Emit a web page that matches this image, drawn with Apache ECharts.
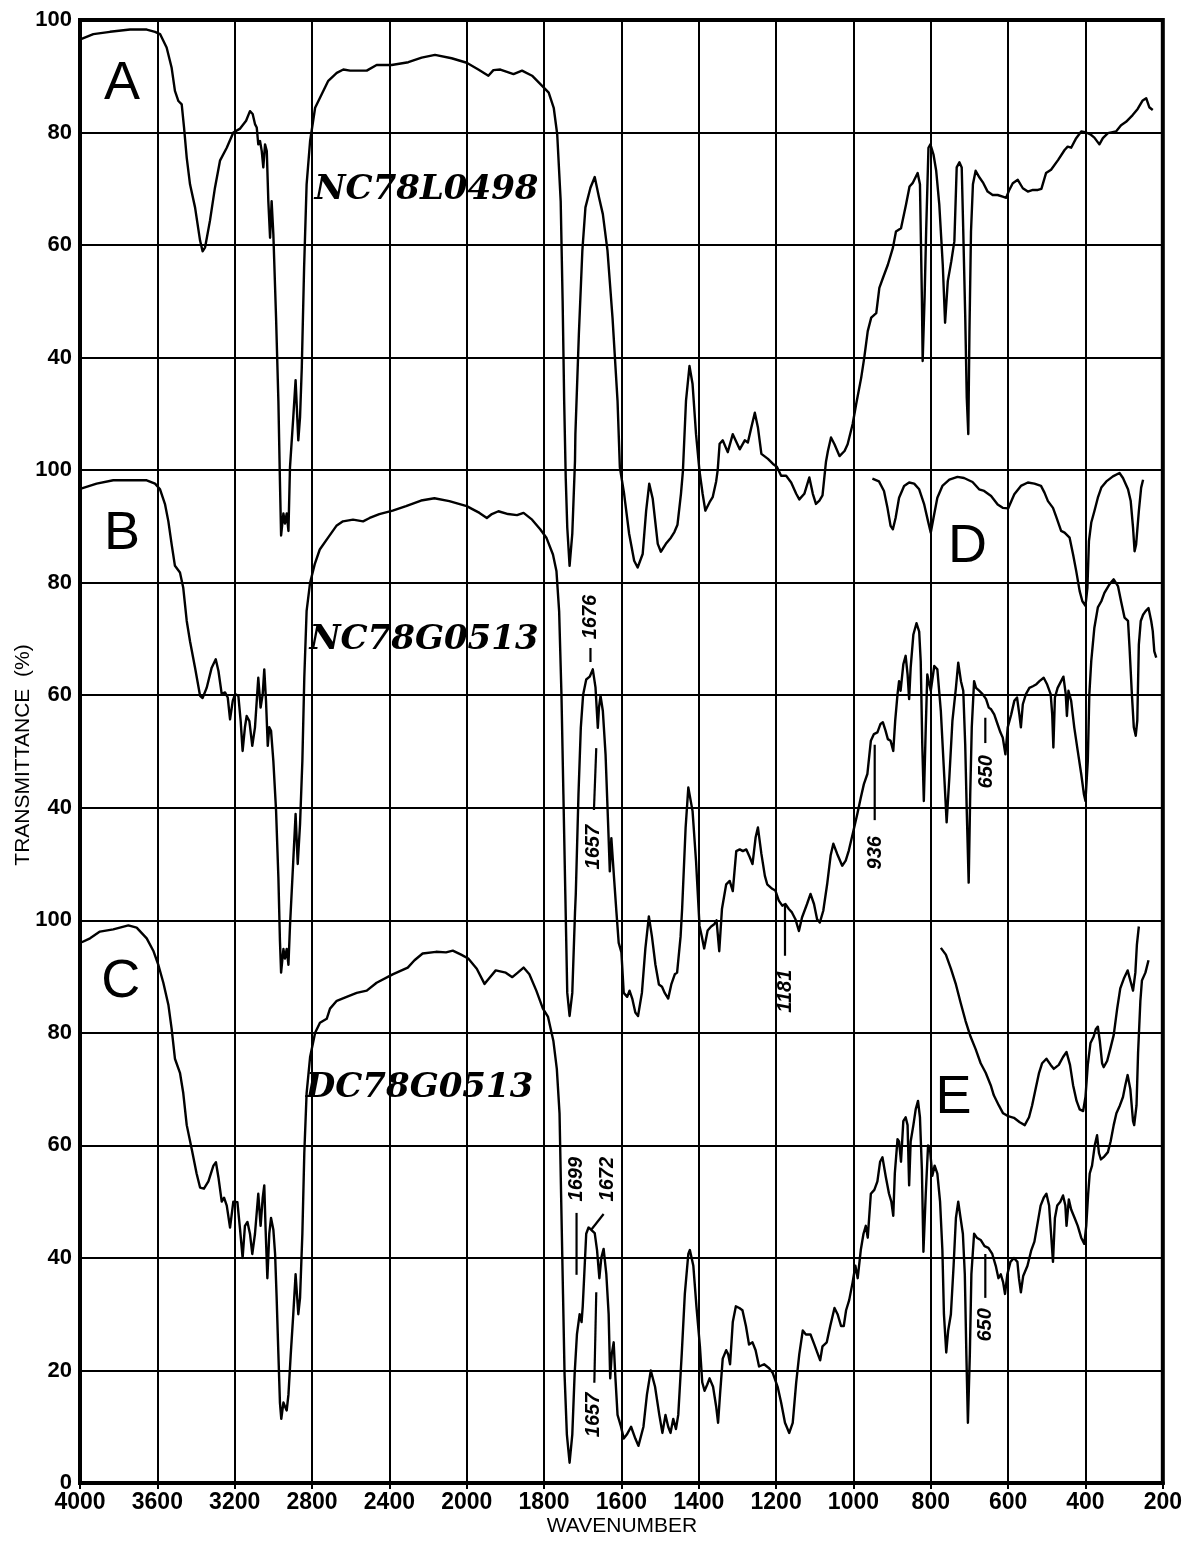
<!DOCTYPE html>
<html>
<head>
<meta charset="utf-8">
<script src="https://cdn.jsdelivr.net/npm/echarts@6/dist/echarts.min.js"></script>
<style>
  html, body { margin: 0; padding: 0; background: #ffffff; }
  #chart { width: 1185px; height: 1544px; }
</style>
</head>
<body>
<div id="chart"></div>
<script>
// Wavenumber tick labels (cm-1); the scale changes at 2000.
const xTickLabels = ['4000', '3600', '3200', '2800', '2400', '2000', '1800', '1600', '1400', '1200', '1000', '800', '600', '400', '200'];
// Transmittance tick labels of the three stacked panels, bottom to top.
const yTickLabels = ['0', '20', '40', '60', '80', '100', '40', '60', '80', '100', '40', '60', '80', '100'];

// Spectrum A: NC78L0498  [wavenumber, transmittance %]
const spectrumA = [
  [3995,96.6],[3931,97.5],[3845,97.9],[3741,98.3],[3655,98.3],[3612,97.9],[3586,97.5],[3552,95.1],[3526,91.5],[3509,87.4],
  [3491,85.6],[3474,85.0],[3462,80.9],[3448,75.5],[3431,70.8],[3405,66.7],[3379,60.8],[3366,58.9],[3353,59.6],[3328,64.3],
  [3302,70.2],[3276,75.0],[3241,77.3],[3207,80.0],[3172,80.7],[3141,82.1],[3121,83.8],[3107,83.3],[3095,81.5],[3086,80.9],
  [3078,77.9],[3069,78.5],[3060,76.7],[3052,73.8],[3043,77.9],[3034,76.7],[3026,67.8],[3017,61.3],[3009,67.8],[3000,61.9],
  [2986,47.1],[2974,32.3],[2966,18.0],[2960,8.4],[2948,12.3],[2940,10.5],[2931,12.3],[2922,9.2],[2914,20.5],[2897,29.4],
  [2885,36.0],[2871,25.3],[2862,29.4],[2853,38.2],[2841,56.0],[2828,70.8],[2810,78.5],[2784,84.4],[2750,86.8],[2716,89.2],
  [2672,90.6],[2638,91.2],[2603,91.0],[2517,91.0],[2466,92.0],[2388,92.0],[2302,92.5],[2233,93.3],[2164,93.8],[2078,93.2],
  [2000,92.4],[1970,91.2],[1944,90.1],[1931,91.1],[1913,91.2],[1879,90.4],[1857,91.0],[1831,90.1],[1805,88.3],[1788,87.1],
  [1775,84.4],[1766,79.7],[1757,67.8],[1752,50.1],[1748,32.3],[1744,18.7],[1740,9.8],[1734,3.0],[1727,8.7],[1720,21.7],
  [1719,26.4],[1710,44.2],[1701,59.0],[1693,66.7],[1680,70.2],[1669,72.1],[1658,68.5],[1648,65.5],[1636,59.0],[1623,47.1],
  [1610,32.3],[1604,20.5],[1593,15.8],[1580,8.7],[1567,3.9],[1558,2.7],[1545,5.1],[1536,12.8],[1528,17.6],[1519,14.9],
  [1506,6.9],[1498,5.5],[1485,6.9],[1472,8.0],[1463,9.0],[1455,10.3],[1446,15.8],[1441,19.8],[1433,32.3],[1424,38.5],
  [1416,35.3],[1407,26.4],[1398,19.8],[1390,15.8],[1383,12.8],[1372,14.3],[1364,15.2],[1355,18.0],[1351,20.0],[1346,24.7],
  [1338,25.3],[1325,23.2],[1312,26.4],[1294,23.7],[1281,25.3],[1273,24.9],[1264,27.6],[1255,30.2],[1247,27.6],[1238,22.9],
  [1221,22.0],[1208,21.1],[1198,20.6],[1187,19.0],[1174,19.0],[1161,17.8],[1148,15.8],[1140,14.8],[1127,15.8],[1114,18.7],
  [1105,15.8],[1097,14.0],[1088,14.6],[1080,15.5],[1071,21.5],[1066,23.4],[1058,25.8],[1049,24.6],[1036,22.5],[1023,23.4],
  [1015,24.6],[1002,28.2],[993,31.7],[980,36.4],[972,40.0],[963,44.7],[954,47.1],[941,47.9],[933,52.4],[924,54.1],
  [911,56.5],[898,59.5],[890,62.4],[877,63.0],[864,67.2],[855,70.4],[847,71.0],[834,72.8],[828,70.8],[823,50.7],
  [821,39.4],[816,50.7],[812,62.4],[806,77.3],[801,77.9],[793,76.1],[786,73.2],[778,67.2],[769,56.5],[763,46.2],
  [756,53.6],[747,57.1],[739,60.7],[733,73.8],[726,74.7],[720,73.8],[716,62.4],[711,47.6],[707,32.9],[703,26.4],
  [700,44.7],[696,62.4],[691,70.8],[684,73.2],[674,72.0],[664,71.0],[653,69.5],[640,68.9],[627,68.9],[614,68.6],
  [605,68.4],[597,69.8],[588,71.0],[575,71.6],[562,70.1],[549,69.5],[536,69.8],[523,69.8],[514,70.0],[502,72.8],
  [489,73.4],[471,75.1],[454,76.9],[446,77.5],[437,77.3],[424,79.0],[411,80.2],[398,80.0],[386,79.6],[377,79.1],
  [364,77.9],[355,79.0],[342,79.9],[321,80.2],[308,81.3],[295,81.9],[278,83.1],[265,84.2],[252,85.7],[243,86.1],
  [235,84.5],[226,84.0]
];

// Spectrum B: NC78G0513
const spectrumB = [
  [3995,96.7],[3914,97.6],[3828,98.2],[3724,98.2],[3655,98.2],[3612,97.6],[3586,96.6],[3560,93.9],[3543,90.9],[3526,86.8],
  [3509,83.0],[3483,81.8],[3466,79.1],[3448,73.2],[3431,69.6],[3405,64.9],[3379,59.9],[3366,59.5],[3345,61.3],[3319,64.9],
  [3298,66.4],[3284,64.3],[3267,60.2],[3250,60.5],[3236,59.6],[3224,55.7],[3210,59.0],[3198,60.2],[3181,59.9],[3169,55.4],
  [3159,50.1],[3147,54.3],[3138,56.3],[3124,55.4],[3109,51.0],[3095,54.3],[3078,63.1],[3066,57.8],[3055,60.2],[3047,64.6],
  [3038,59.0],[3029,51.0],[3021,54.3],[3012,53.7],[3000,48.3],[2986,39.5],[2974,27.6],[2966,16.4],[2960,10.7],[2948,14.9],
  [2940,13.2],[2931,14.9],[2922,12.1],[2914,19.0],[2897,30.6],[2885,38.9],[2874,30.0],[2862,37.1],[2850,48.3],[2840,63.1],
  [2828,75.0],[2810,80.0],[2786,83.3],[2760,85.9],[2717,88.0],[2674,90.1],[2640,90.9],[2588,91.2],[2536,90.9],[2502,91.5],
  [2452,92.2],[2383,92.8],[2314,93.6],[2236,94.6],[2167,95.0],[2090,94.5],[2000,93.6],[1967,92.4],[1948,91.5],[1935,92.2],
  [1918,92.7],[1893,92.2],[1870,92.0],[1853,92.4],[1831,91.2],[1810,89.5],[1794,88.0],[1777,85.0],[1768,82.1],[1761,74.9],
  [1755,60.1],[1750,42.4],[1745,24.6],[1740,7.1],[1734,3.0],[1727,7.1],[1720,21.4],[1718,24.6],[1711,42.4],[1705,54.2],
  [1699,60.1],[1691,62.8],[1682,63.3],[1674,64.6],[1667,61.4],[1661,54.2],[1658,57.8],[1654,59.9],[1648,57.2],[1641,49.5],
  [1634,36.4],[1630,28.7],[1626,34.6],[1619,27.5],[1613,21.6],[1607,16.0],[1600,14.3],[1594,7.1],[1585,6.4],[1579,7.5],
  [1572,6.1],[1564,3.6],[1557,3.0],[1547,7.1],[1538,15.0],[1529,20.7],[1521,17.1],[1512,12.1],[1503,8.6],[1495,8.2],
  [1488,7.1],[1479,6.1],[1471,8.6],[1462,10.4],[1456,10.7],[1447,17.1],[1443,22.0],[1434,36.4],[1427,43.6],[1416,39.4],
  [1407,30.5],[1398,19.0],[1392,17.1],[1386,15.0],[1377,18.2],[1368,18.9],[1360,19.3],[1354,20.0],[1347,14.5],[1340,22.0],
  [1329,26.4],[1320,27.0],[1312,25.2],[1303,32.3],[1294,32.6],[1286,32.3],[1277,32.6],[1268,31.2],[1261,30.0],[1253,34.7],
  [1247,36.5],[1238,31.8],[1229,27.9],[1223,26.4],[1210,25.6],[1202,25.3],[1193,23.5],[1184,22.6],[1176,22.9],[1167,22.0],
  [1159,21.4],[1150,20.2],[1141,18.1],[1133,20.5],[1120,22.9],[1111,24.7],[1102,22.9],[1094,20.2],[1087,19.6],[1078,21.7],
  [1068,26.4],[1059,31.5],[1052,33.6],[1042,31.8],[1029,29.7],[1020,30.6],[1012,32.4],[1000,35.9],[990,38.9],[981,41.8],
  [973,44.2],[964,46.0],[955,51.9],[947,53.1],[938,53.4],[930,54.9],[924,55.2],[917,53.7],[911,52.2],[904,51.9],
  [897,50.1],[892,55.5],[886,60.2],[882,62.5],[878,60.8],[871,65.5],[865,67.0],[860,63.7],[856,59.3],[852,64.9],
  [845,70.8],[837,72.8],[830,71.3],[826,66.0],[822,51.2],[818,41.2],[813,54.2],[809,63.7],[804,62.0],[800,60.8],
  [791,65.2],[783,64.6],[774,57.2],[765,45.4],[759,37.4],[752,45.4],[744,55.5],[735,61.3],[729,65.8],[722,62.5],
  [716,60.8],[711,51.3],[707,39.5],[702,26.7],[698,42.4],[694,54.3],[688,62.5],[683,61.3],[675,60.8],[666,60.2],
  [657,59.3],[650,57.8],[644,57.5],[636,56.6],[627,54.8],[620,53.4],[614,52.5],[607,49.5],[601,54.3],[592,56.6],
  [584,59.0],[577,59.6],[571,56.6],[567,54.3],[562,58.4],[554,60.2],[545,61.3],[536,61.6],[528,61.9],[519,62.5],
  [508,63.1],[499,61.9],[490,60.2],[486,56.6],[483,50.7],[479,59.6],[472,61.3],[463,62.5],[457,63.3],[451,60.2],
  [448,56.3],[444,60.8],[437,59.0],[429,54.3],[420,50.1],[411,46.0],[404,42.4],[400,41.2],[394,48.3],[390,60.2],
  [385,66.1],[377,72.0],[368,75.6],[359,76.7],[351,78.2],[338,79.7],[327,80.6],[316,79.4],[308,76.7],[299,73.8],
  [290,73.2],[286,68.4],[280,60.2],[275,54.3],[270,52.8],[266,55.5],[262,69.0],[257,73.2],[251,74.3],[245,74.9],
  [237,75.5],[230,73.2],[226,71.4],[222,67.8],[217,66.7]
];

// Spectrum C: DC78G0513
const spectrumC = [
  [3991,96.1],[3948,96.8],[3897,98.0],[3828,98.4],[3750,99.1],[3707,98.7],[3655,96.8],[3621,94.6],[3595,92.1],[3569,88.9],
  [3543,85.0],[3526,80.7],[3509,75.4],[3483,72.9],[3466,69.3],[3448,63.6],[3422,59.3],[3397,55.0],[3379,52.5],[3359,52.3],
  [3336,53.6],[3310,56.4],[3297,57.0],[3284,54.3],[3267,50.0],[3255,50.7],[3241,49.3],[3224,45.4],[3207,50.0],[3186,49.9],
  [3172,45.0],[3159,40.0],[3147,45.7],[3134,46.4],[3121,44.3],[3109,40.7],[3095,44.3],[3078,51.4],[3066,45.7],[3055,50.7],
  [3047,52.9],[3040,45.0],[3031,36.4],[3021,44.3],[3012,47.1],[3000,45.0],[2991,40.7],[2983,32.9],[2974,22.9],[2966,14.3],
  [2959,11.4],[2948,14.3],[2940,13.6],[2931,12.9],[2922,15.7],[2910,22.9],[2897,30.0],[2885,37.1],[2871,30.0],[2862,32.9],
  [2850,44.3],[2840,58.6],[2828,69.3],[2810,75.7],[2784,80.0],[2759,81.8],[2724,82.5],[2707,84.3],[2672,85.7],[2621,86.4],
  [2569,87.1],[2517,87.5],[2466,88.9],[2383,90.4],[2305,91.6],[2270,92.9],[2228,94.1],[2159,94.4],[2107,94.3],[2072,94.6],
  [2029,93.9],[1996,93.2],[1974,91.4],[1954,88.7],[1943,89.6],[1925,91.1],[1899,90.7],[1882,89.9],[1868,90.7],[1853,91.6],
  [1838,90.4],[1820,87.5],[1803,84.3],[1790,82.9],[1776,78.6],[1767,73.6],[1760,65.7],[1756,51.4],[1751,33.6],[1747,19.3],
  [1741,8.6],[1734,3.6],[1727,8.6],[1721,19.3],[1715,26.4],[1708,30.0],[1703,28.6],[1700,31.4],[1696,37.1],[1691,44.3],
  [1685,45.4],[1678,45.0],[1669,44.4],[1663,41.4],[1657,36.4],[1652,40.0],[1646,41.6],[1639,37.1],[1633,30.0],[1629,18.6],
  [1625,22.9],[1620,25.0],[1616,19.3],[1610,12.1],[1601,10.0],[1594,7.9],[1586,8.6],[1575,10.0],[1564,7.9],[1556,6.6],
  [1543,10.0],[1534,15.7],[1524,20.0],[1513,17.1],[1502,12.1],[1494,8.9],[1486,12.1],[1479,10.0],[1473,8.9],[1466,11.4],
  [1459,9.6],[1453,12.1],[1444,22.9],[1436,33.6],[1427,40.7],[1423,41.4],[1414,38.6],[1406,31.4],[1397,24.3],[1391,17.9],
  [1385,16.4],[1378,17.5],[1372,18.6],[1363,17.1],[1355,13.6],[1350,10.7],[1345,15.7],[1338,22.1],[1329,23.6],[1324,22.9],
  [1319,21.1],[1312,28.6],[1304,31.4],[1295,31.1],[1287,30.7],[1278,27.9],[1270,24.6],[1261,25.0],[1253,23.6],[1244,20.7],
  [1231,21.1],[1218,20.4],[1209,19.6],[1196,17.1],[1187,14.3],[1177,10.7],[1166,8.9],[1157,10.7],[1148,17.9],[1140,22.9],
  [1131,27.1],[1123,26.4],[1111,26.4],[1101,24.6],[1092,22.9],[1086,21.8],[1080,24.3],[1069,25.0],[1060,27.9],[1049,31.1],
  [1041,30.0],[1032,27.9],[1025,27.9],[1019,30.7],[1011,32.5],[1002,35.7],[995,38.6],[989,36.4],[981,41.4],[974,44.3],
  [968,45.7],[963,43.6],[955,51.4],[946,52.1],[938,53.6],[931,57.1],[925,57.9],[916,54.3],[908,51.4],[902,50.0],
  [897,47.5],[893,55.0],[886,61.1],[882,60.7],[877,57.1],[871,64.3],[865,65.0],[860,63.6],[856,52.9],[852,60.7],
  [845,63.6],[839,66.4],[833,67.9],[828,65.0],[823,55.7],[819,41.1],[813,51.4],[807,60.0],[802,59.3],[796,54.6],
  [790,56.4],[783,55.0],[776,50.0],[770,41.4],[766,30.0],[760,23.2],[755,27.1],[748,30.0],[741,38.6],[735,47.1],
  [729,50.0],[723,47.1],[717,44.3],[712,37.1],[708,22.9],[704,10.7],[699,22.9],[695,37.1],[688,44.3],[681,43.6],
  [671,43.2],[661,42.1],[651,41.8],[641,40.7],[632,38.6],[625,36.4],[619,37.1],[613,35.7],[608,33.6],[602,37.1],
  [594,39.3],[585,40.0],[576,39.3],[572,36.4],[567,33.9],[561,36.8],[550,38.6],[540,41.4],[532,42.9],[525,45.7],
  [516,49.3],[508,50.7],[501,51.4],[494,49.3],[489,44.3],[484,39.3],[479,47.1],[473,49.3],[465,50.0],[458,51.1],
  [452,49.3],[449,45.7],[443,50.4],[437,48.6],[428,47.1],[420,45.7],[411,43.6],[403,42.5],[398,45.7],[393,51.4],
  [389,55.0],[383,56.4],[376,60.0],[370,61.8],[365,58.6],[360,57.5],[353,57.9],[342,58.8],[335,60.7],[327,63.6],
  [320,65.7],[311,67.1],[303,68.6],[297,70.7],[291,72.5],[284,70.0],[277,64.3],[274,63.6],[268,67.1],[264,76.4],
  [258,85.7],[254,89.3],[245,90.7],[237,92.9]
];

// Spectrum D (far-IR detail, drawn on the B scale)
const spectrumD = [
  [951,98.5],[934,98.0],[921,96.3],[912,93.3],[904,90.1],[898,89.5],[891,91.5],[882,95.1],[869,97.2],[856,97.8],
  [843,97.6],[830,96.6],[817,93.9],[807,90.9],[800,88.9],[793,91.5],[783,95.1],[770,97.2],[752,98.3],[731,98.8],
  [714,98.6],[692,97.9],[675,96.6],[662,96.3],[644,95.4],[627,93.9],[614,93.3],[600,93.2],[584,95.7],[567,97.2],
  [549,97.8],[532,97.6],[515,97.2],[506,96.0],[497,94.5],[484,93.3],[476,91.8],[463,89.2],[454,88.9],[441,88.0],
  [432,85.0],[424,82.1],[415,78.5],[408,76.7],[400,75.9],[395,79.1],[391,87.4],[385,90.7],[377,92.7],[368,95.1],
  [359,96.9],[346,98.0],[329,98.9],[312,99.5],[303,98.6],[290,96.6],[283,94.5],[277,89.8],[273,85.6],[269,86.8],
  [262,92.7],[256,96.9],[251,98.3]
];

// Spectrum E (far-IR detail, drawn on the C scale)
const spectrumE = [
  [774,95.1],[761,93.9],[748,91.4],[735,88.6],[723,85.4],[710,82.1],[697,79.3],[684,77.1],[671,74.6],[658,72.9],
  [645,70.7],[637,68.9],[624,67.1],[613,65.7],[600,65.2],[585,64.9],[570,64.1],[557,63.6],[546,65.0],[538,67.1],
  [529,70.0],[520,72.9],[512,74.6],[501,75.4],[490,74.3],[482,73.6],[469,74.3],[458,75.7],[449,76.6],[440,74.3],
  [432,70.7],[423,67.9],[415,66.4],[406,66.1],[400,68.6],[394,74.3],[387,78.2],[379,79.3],[373,80.7],[368,81.1],
  [363,78.6],[357,74.6],[353,73.9],[344,75.0],[336,77.1],[327,79.6],[318,84.3],[310,87.9],[301,89.6],[291,91.1],
  [284,89.3],[277,87.5],[271,90.7],[267,95.7],[262,98.9]
];

// Band assignments written on the spectra
const bandLabels = ['1676', '1657', '936', '650', '1181', '1699', '1672', '1657', '650'];

// ---- layout ----
// Vertical offset of each panel on the shared transmittance scale.
const panelOffset = { A: 160, B: 80, C: 0, D: 80, E: 0 };

// Placement of the band labels and their leader lines: [wavenumber, transmittance] in the panel's own scale.
const bandLayout = [
  { panel: 'B', text: [1680, 73.9], lead: [[1680, 68.4], [1680, 65.9]] },
  { panel: 'B', text: [1672, 33.0], lead: [[1665, 50.6], [1671, 39.6]] },
  { panel: 'B', text: [943, 32.0],  lead: [[945, 51.2], [945, 37.8]] },
  { panel: 'B', text: [656, 46.4],  lead: [[659, 56.0], [659, 51.5]] },
  { panel: 'B', text: [1177, 7.4],  lead: [[1177, 22.7], [1177, 13.7]] },
  { panel: 'C', text: [1716, 54.0], lead: [[1716, 48.0], [1716, 37.0]] },
  { panel: 'C', text: [1636, 54.0], lead: [[1646, 47.8], [1677, 45.1]] },
  { panel: 'C', text: [1672, 12.1], lead: [[1665, 33.9], [1670, 17.8]] },
  { panel: 'C', text: [659, 28.1],  lead: [[659, 40.7], [659, 32.9]] }
];

// Panel letters and sample names
const panelLetters = [
  { text: 'A', panel: 'A', at: [3783, 88.6] },
  { text: 'B', panel: 'B', at: [3783, 88.7] },
  { text: 'C', panel: 'C', at: [3789, 89.0] },
  { text: 'D', panel: 'B', at: [705, 86.3] },
  { text: 'E', panel: 'C', at: [741, 68.4] }
];
const sampleNames = [
  { text: 'NC78L0498', panel: 'A', at: [2208, 69.8] },
  { text: 'NC78G0513', panel: 'B', at: [2221, 69.8] },
  { text: 'DC78G0513', panel: 'C', at: [2244, 70.2] }
];

// Position along the split wavenumber axis: 400 cm-1 per division above 2000, 200 below.
function axisPos(wn) {
  return wn >= 2000 ? (4000 - wn) / 400 : 5 + (2000 - wn) / 200;
}
function toChart(pair, panel) {
  return [axisPos(pair[0]), pair[1] + panelOffset[panel]];
}

const INK = '#000000';
const series = [];

function addTrace(name, data, panel) {
  series.push({
    name: name,
    type: 'line',
    data: data.map(p => toChart(p, panel)),
    showSymbol: false,
    symbol: 'none',
    smooth: false,
    silent: true,
    lineStyle: { color: INK, width: 2.4, join: 'round', opacity: 1 },
    z: 5
  });
}
addTrace('A', spectrumA, 'A');
addTrace('B', spectrumB, 'B');
addTrace('C', spectrumC, 'C');
addTrace('D', spectrumD, 'D');
addTrace('E', spectrumE, 'E');

// leader lines
bandLayout.forEach((b, i) => {
  series.push({
    name: 'lead' + i,
    type: 'line',
    data: b.lead.map(p => toChart(p, b.panel)),
    showSymbol: false,
    symbol: 'none',
    silent: true,
    lineStyle: { color: INK, width: 2.2 },
    z: 6
  });
});

function textSeries(name, items, label) {
  return {
    name: name,
    type: 'scatter',
    symbolSize: 0,
    silent: true,
    itemStyle: { opacity: 1, color: INK },
    emphasis: { disabled: true },
    data: items,
    label: Object.assign({
      show: true,
      position: 'inside',
      formatter: p => p.name,
      color: INK,
      opacity: 1
    }, label),
    z: 7
  };
}

// band labels (rotated, reading upward)
series.push(textSeries('bands',
  bandLayout.map((b, i) => ({ value: toChart(b.text, b.panel), name: bandLabels[i] })),
  { rotate: 90, fontFamily: 'Liberation Sans, Arial, sans-serif', fontStyle: 'italic', fontWeight: 'bold', fontSize: 20 }
));

// panel letters
series.push(textSeries('letters',
  panelLetters.map(l => ({ value: toChart(l.at, l.panel), name: l.text })),
  { fontFamily: 'Liberation Sans, Arial, sans-serif', fontWeight: 'normal', fontSize: 54 }
));

// sample names
series.push(textSeries('samples',
  sampleNames.map(s => ({ value: toChart(s.at, s.panel), name: s.text })),
  { fontFamily: 'DejaVu Serif, serif', fontStyle: 'italic', fontWeight: 'bold', fontSize: 34 }
));

const chart = echarts.init(document.getElementById('chart'), null, { renderer: 'canvas' });
chart.setOption({
  backgroundColor: '#ffffff',
  animation: false,
  grid: {
    left: 80, right: 19, top: 20, bottom: 61,
    show: true, borderColor: INK, borderWidth: 4, backgroundColor: 'transparent'
  },
  xAxis: {
    type: 'value',
    min: 0, max: 14, interval: 1,
    axisLine: { show: true, onZero: false, lineStyle: { color: INK, width: 4 } },
    axisTick: { show: true, length: 6, lineStyle: { color: INK, width: 2 } },
    splitLine: { show: true, lineStyle: { color: INK, width: 2 } },
    axisLabel: {
      margin: 8,
      color: INK,
      fontFamily: 'Liberation Sans, Arial, sans-serif',
      fontWeight: 'bold',
      fontSize: 23,
      formatter: v => xTickLabels[Math.round(v)] || ''
    }
  },
  yAxis: {
    type: 'value',
    min: 0, max: 260, interval: 20,
    axisLine: { show: true, onZero: false, lineStyle: { color: INK, width: 4 } },
    axisTick: { show: false },
    splitLine: { show: true, lineStyle: { color: INK, width: 2 } },
    axisLabel: {
      margin: 8,
      color: INK,
      fontFamily: 'Liberation Sans, Arial, sans-serif',
      fontWeight: 'bold',
      fontSize: 22,
      formatter: v => yTickLabels[Math.round(v / 20)] || ''
    }
  },
  graphic: [
    {
      type: 'text', x: 23, y: 755, rotation: Math.PI / 2,
      style: {
        text: 'TRANSMITTANCE  (%)', fill: INK,
        font: '21px "Liberation Sans", Arial, sans-serif',
        align: 'center', verticalAlign: 'middle'
      }
    },
    {
      type: 'text', x: 622, y: 1526,
      style: {
        text: 'WAVENUMBER', fill: INK,
        font: '21px "Liberation Sans", Arial, sans-serif',
        align: 'center', verticalAlign: 'middle'
      }
    }
  ],
  series: series
});
</script>
</body>
</html>
